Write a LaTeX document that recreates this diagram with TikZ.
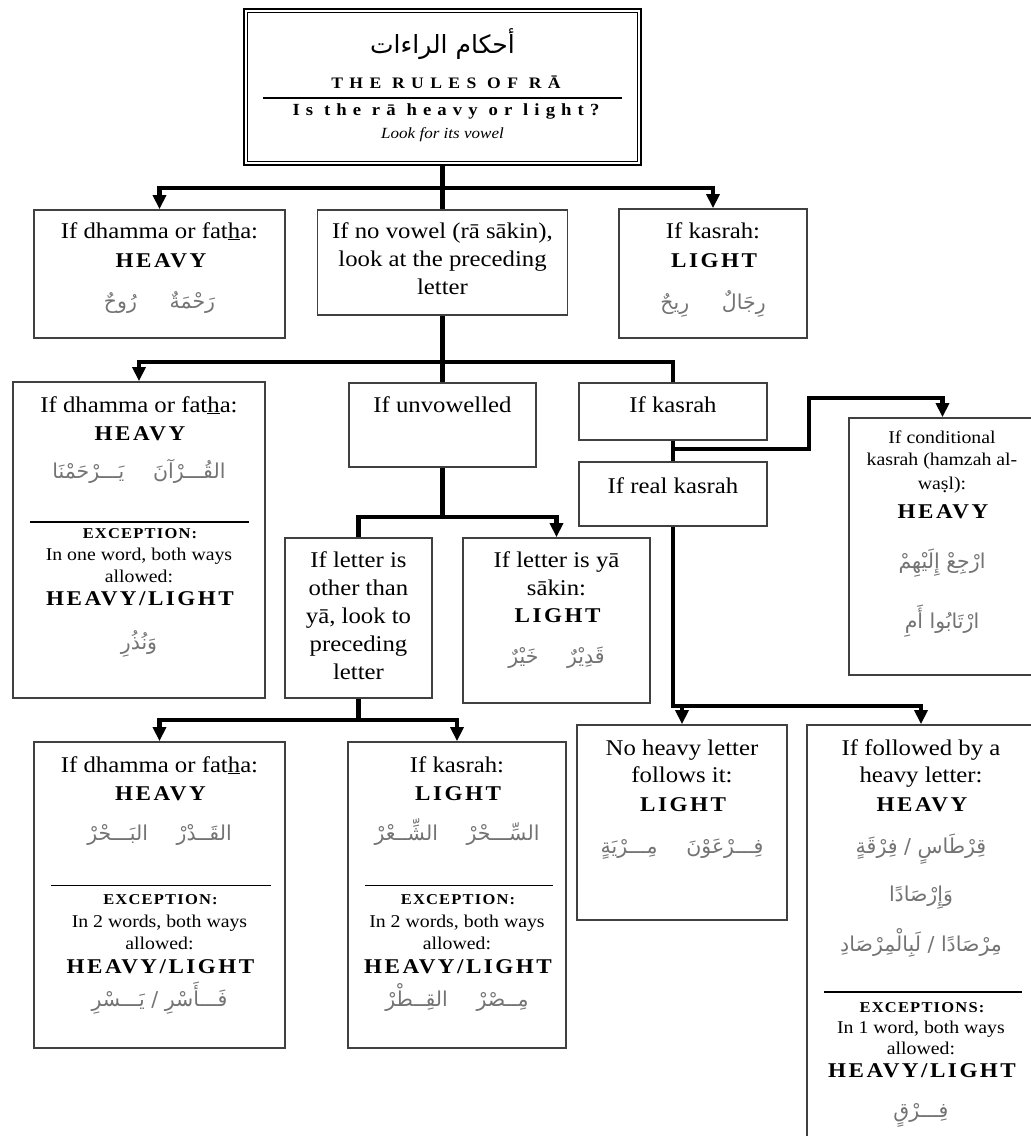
\documentclass[tikz,border=0pt]{standalone}
\usepackage{fontspec}
\usetikzlibrary{arrows.meta}
\TeXXeTstate=1
\setmainfont{Liberation Serif}[FakeStretch=1.1]
\newfontfamily\capsfam{Liberation Serif}[FakeStretch=1.1,LetterSpace=12]
\newfontfamily\rulesfam{Liberation Serif}[FakeStretch=1.1,LetterSpace=40]
\newfontfamily\questfam{Liberation Serif}[FakeStretch=1.1,LetterSpace=36]
\newfontfamily\excfam{Liberation Serif}[FakeStretch=1.1,LetterSpace=8]
\newfontfamily\arabicfont[Script=Arabic]{DejaVu Sans}
% s with a dot below
\newcommand\sdot{\ooalign{s\cr\hidewidth\raisebox{-0.22em}{.}\hidewidth\cr}}
% right-to-left Arabic run
\newcommand\artext[1]{\arabicfont\beginR #1\endR}

\tikzset{
  box/.style={draw=black!75, line width=1.8pt, inner sep=0pt},
  conn/.style={line width=4.6pt},
  arr/.style={conn, -{Triangle[length=14pt,width=13pt]}},
  txt/.style={anchor=base, inner sep=0pt, font=\fontsize{22.5}{26}\selectfont},
  small/.style={anchor=base, inner sep=0pt, font=\fontsize{18}{22}\selectfont},
  caps/.style={anchor=base, inner sep=0pt, font=\capsfam\bfseries\fontsize{21}{24}\selectfont},
  exc/.style={anchor=base, inner sep=0pt, font=\excfam\bfseries\fontsize{15}{18}\selectfont},
  arab/.style={anchor=base, inner sep=0pt, text=black!55, font=\arabicfont\fontsize{20.5}{24}\selectfont},
  sep/.style={line width=1.6pt},
}

\begin{document}
\begin{tikzpicture}[x=1pt,y=-1pt]
\useasboundingbox (0,0) rectangle (1031,1136);
\begin{scope}
\clip (0,0) rectangle (1031,1136);

% ---------- title box ----------
\node[draw, line width=2.4pt, minimum width=397pt, minimum height=156pt, inner sep=0pt] (top) at (442.5,87) {};
\draw[line width=1.3pt] ([shift={(5,5)}]top.north west) rectangle ([shift={(-5,-5)}]top.south east);
\node[arab, text=black, font=\arabicfont\fontsize{25}{28}\selectfont] (ttl) at (442.5,53) {\artext{أحكام الراءات}};
\node[anchor=base, inner sep=0pt, font=\rulesfam\bfseries\fontsize{16}{18}\selectfont] (rules) at (446,88) {THE RULES OF RĀ};
\draw[sep] (263,98) -- (622,98);
\node[anchor=base, inner sep=0pt, font=\questfam\bfseries\fontsize{17}{18}\selectfont] (quest) at (446,115) {Is the rā heavy or light?};
\node[anchor=base, inner sep=0pt, font=\itshape\fontsize{15.5}{18}\selectfont] (look) at (442.5,138) {Look for its vowel};

% ---------- second row ----------
\node[box, minimum width=251pt, minimum height=128pt] (lbox) at (159.5,274) {};
\node[txt] (lbox1) at (159.5,238) {If dhamma or fat\underline{h}a:};
\node[caps] (lbox2) at (161,267) {HEAVY};
\node[arab] (lbox3) at (159.5,308) {\artext{رَحْمَةٌ\hspace{1.6em}رُوحٌ}};

\node[box, minimum width=250pt, minimum height=105pt] (mbox) at (442.5,262.5) {};
\node[txt] (mbox1) at (442.5,238) {If no vowel (rā sākin),};
\node[txt] (mbox2) at (442.5,266) {look at the preceding};
\node[txt] (mbox3) at (442.5,294) {letter};

\node[box, minimum width=188pt, minimum height=129pt] (rbox) at (713,273.5) {};
\node[txt] (rbox1) at (713,238) {If kasrah:};
\node[caps] (rbox2) at (714,267) {LIGHT};
\node[arab] (rbox3) at (713,309) {\artext{رِجَالٌ\hspace{1.6em}رِيحٌ}};

% ---------- third row ----------
\node[box, minimum width=252pt, minimum height=316pt] (l3box) at (139,540) {};
\node[txt] (l3a) at (139,412) {If dhamma or fat\underline{h}a:};
\node[caps] (l3b) at (140,440) {HEAVY};
\node[arab] (l3c) at (139,478) {\artext{القُـــرْآنَ\hspace{1.4em}يَـــرْحَمْنَا}};
\draw[sep] (30,522) -- (249,522);
\node[exc] (l3d) at (140,538) {EXCEPTION:};
\node[small] (l3e) at (139,560) {In one word, both ways};
\node[small] (l3f) at (139,582) {allowed:};
\node[caps] (l3g) at (140,605) {HEAVY/LIGHT};
\node[arab] (l3h) at (139,649) {\artext{وَنُذُرِ}};

\node[box, minimum width=187pt, minimum height=84pt] (unv) at (442.5,425) {};
\node[txt] (unv1) at (442.5,412) {If unvowelled};

\node[box, minimum width=147pt, minimum height=160pt] (oth) at (358.5,618) {};
\node[txt] (oth1) at (358.5,567) {If letter is};
\node[txt] (oth2) at (358.5,595) {other than};
\node[txt] (oth3) at (358.5,623) {yā, look to};
\node[txt] (oth4) at (358.5,651) {preceding};
\node[txt] (oth5) at (358.5,679) {letter};

\node[box, minimum width=187pt, minimum height=165pt] (ya) at (556.5,620.5) {};
\node[txt] (ya1) at (556.5,567) {If letter is yā};
\node[txt] (ya2) at (556.5,595) {sākin:};
\node[caps] (ya3) at (557.5,622) {LIGHT};
\node[arab] (ya4) at (556.5,663) {\artext{قَدِيْرٌ\hspace{1.4em}خَيْرٌ}};

\node[box, minimum width=188pt, minimum height=57pt] (kbox) at (673,411.5) {};
\node[txt] (kbox1) at (673,412) {If kasrah};

\node[box, minimum width=188pt, minimum height=64pt] (realk) at (673,494) {};
\node[txt] (realk1) at (673,493) {If real kasrah};

\node[box, minimum width=187pt, minimum height=257pt] (cond) at (942.5,546.5) {};
\node[small] (cond1) at (942,443) {If conditional};
\node[small] (cond2) at (942,465) {kasrah (hamzah al-};
\node[small] (cond3) at (942,489) {wa\sdot l):};
\node[caps] (cond4) at (943,518) {HEAVY};
\node[arab] (cond5) at (942,568) {\artext{ارْجِعْ إِلَيْهِمْ}};
\node[arab] (cond6) at (942,628) {\artext{ارْتَابُوا أَمِ}};

% ---------- bottom row ----------
\node[box, minimum width=251pt, minimum height=306pt] (bl) at (159.5,895) {};
\node[txt] (bl1) at (159.5,772) {If dhamma or fat\underline{h}a:};
\node[caps] (bl2) at (160.5,800) {HEAVY};
\node[arab] (bl3) at (159.5,840) {\artext{القَــدْرْ\hspace{1.4em}البَـــحْرْ}};
\draw[sep] (51,885.5) -- (271,885.5);
\node[exc] (bl4) at (160.5,904.5) {EXCEPTION:};
\node[small] (bl5) at (159.5,927) {In 2 words, both ways};
\node[small] (bl6) at (159.5,949) {allowed:};
\node[caps] (bl7) at (160.5,973.5) {HEAVY/LIGHT};
\node[arab] (bl8) at (159.5,1006) {\artext{فَـــأَسْرِ / يَـــسْرِ}};

\node[box, minimum width=218pt, minimum height=306pt] (br) at (457,895) {};
\node[txt] (br1) at (457,772) {If kasrah:};
\node[caps] (br2) at (458,800) {LIGHT};
\node[arab] (br3) at (457,840) {\artext{السِّـــحْرْ\hspace{1.4em}الشِّــعْرْ}};
\draw[sep] (365,885.5) -- (553,885.5);
\node[exc] (br4) at (458,904.5) {EXCEPTION:};
\node[small] (br5) at (457,927) {In 2 words, both ways};
\node[small] (br6) at (457,949) {allowed:};
\node[caps] (br7) at (458,973.5) {HEAVY/LIGHT};
\node[arab] (br8) at (457,1006) {\artext{مِــصْرْ\hspace{1.4em}القِــطْرْ}};

\node[box, minimum width=210pt, minimum height=195pt] (nh) at (682,822.5) {};
\node[txt] (nh1) at (682,755) {No heavy letter};
\node[txt] (nh2) at (682,782) {follows it:};
\node[caps] (nh3) at (683,811) {LIGHT};
\node[arab] (nh4) at (682,853) {\artext{فِـــرْعَوْنَ\hspace{1.4em}مِـــرْيَةٍ}};

\node[box, minimum width=228pt, minimum height=425pt] (fb) at (921,937.5) {};
\node[txt] (fb1) at (921,755) {If followed by a};
\node[txt] (fb2) at (921,782) {heavy letter:};
\node[caps] (fb3) at (922,811) {HEAVY};
\node[arab] (fb4) at (921,853) {\artext{قِرْطَاسٍ / فِرْقَةٍ}};
\node[arab] (fb5) at (921,901) {\artext{وَإِرْصَادًا}};
\node[arab] (fb6) at (921,951) {\artext{مِرْصَادًا / لَبِالْمِرْصَادِ}};
\draw[sep] (824,992) -- (1022,992);
\node[exc] (fb7) at (922,1012) {EXCEPTIONS:};
\node[small] (fb8) at (921,1033) {In 1 word, both ways};
\node[small] (fb9) at (921,1054) {allowed:};
\node[caps] (fb10) at (922,1077) {HEAVY/LIGHT};
\node[arab] (fb11) at (921,1117) {\artext{فِـــرْقٍ}};

% ---------- connectors ----------
\coordinate (j1) at (442.5,188);
\draw[conn] (top.south) -- (mbox.north);
\draw[arr] (j1) -| (lbox.north);
\draw[arr] (j1) -| (rbox.north);

\coordinate (j2) at (442.5,362);
\draw[conn] (mbox.south) -- (unv.north);
\draw[arr] (j2) -| (l3box.north);
\draw[conn] (j2) -| (kbox.north);

\coordinate (j3) at (442.5,517);
\draw[conn] (unv.south) -- (j3) -| (oth.north);
\draw[arr] (j3) -| (ya.north);

\coordinate (j4) at (673,449);
\coordinate (b4) at (809,398);
\draw[conn] (kbox.south) -- (realk.north);
\draw[arr] (j4) -| (b4) -| (cond.north);

\coordinate (j5) at (673,706);
\draw[arr] (realk.south) -- (j5) -| (fb.north);
\draw[arr] (j5) -| (nh.north);

\coordinate (j6) at (358.5,720);
\draw[arr] (oth.south) -- (j6) -| (bl.north);
\draw[arr] (j6) -| (br.north);
\end{scope}
\end{tikzpicture}
\end{document}
